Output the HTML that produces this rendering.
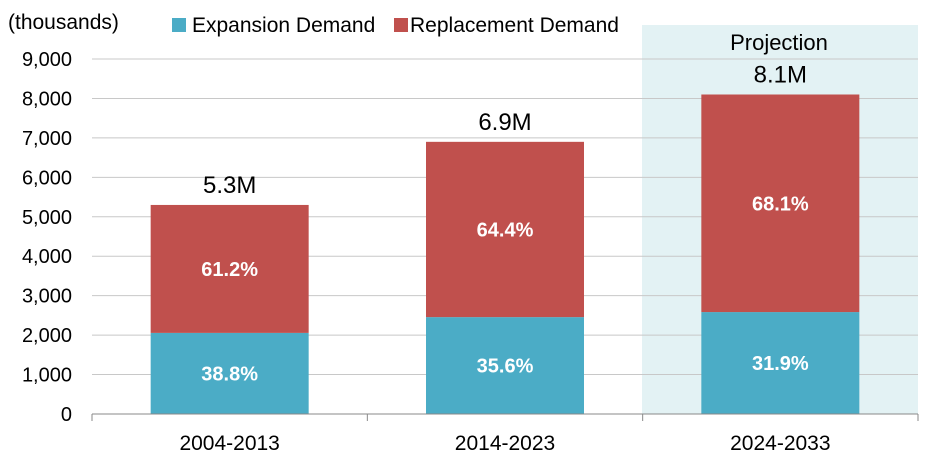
<!DOCTYPE html>
<html><head><meta charset="utf-8"><style>
html,body{margin:0;padding:0;background:#fff;}
svg{display:block;font-family:"Liberation Sans Narrow","Liberation Sans",sans-serif;}
</style></head><body>
<svg id="chart" width="949" height="473" viewBox="0 0 949 473">
<rect x="642" y="25" width="276" height="389" fill="#e3f2f4"/>
<text x="779" y="50" font-size="22" text-anchor="middle" fill="#000">Projection</text>
<text x="8" y="29" font-size="21" fill="#000">(thousands)</text>
<rect x="172" y="18" width="14" height="14" fill="#4bacc6"/>
<text x="192" y="32" font-size="21">Expansion Demand</text>
<rect x="394" y="18" width="14" height="14" fill="#c0504d"/>
<text x="410" y="32" font-size="21">Replacement Demand</text>
<g id="grid"></g><g id="bars"></g><g id="axes"></g>
</svg>
<script>
const categories = ["2004-2013","2014-2023","2024-2033"];
const expansion = [2056, 2456, 2584];
const replacement = [3244, 4444, 5516];
const expansionPct = ["38.8%","35.6%","31.9%"];
const replacementPct = ["61.2%","64.4%","68.1%"];
const totalLabels = ["5.3M","6.9M","8.1M"];
const yTicks = [0,1000,2000,3000,4000,5000,6000,7000,8000,9000];
const yTickLabels = ["0","1,000","2,000","3,000","4,000","5,000","6,000","7,000","8,000","9,000"];

const NS="http://www.w3.org/2000/svg";
const L=92,R=918,Y0=414,YT=59,yMax=9000;
const y=v=>Y0-(v/yMax)*(Y0-YT);
const band=(R-L)/categories.length;
const xc=i=>L+band*(i+0.5);
const bw=158;
function mk(tag,attrs,parent,text){const e=document.createElementNS(NS,tag);for(const k in attrs)e.setAttribute(k,attrs[k]);if(text!==undefined)e.textContent=text;document.getElementById(parent).appendChild(e);return e;}
yTicks.forEach((t,i)=>{
  if(t>0){const g=mk('line',{x1:L,x2:R,y1:y(t),y2:y(t),stroke:'#c8c8c8','stroke-width':1},'grid');
  
  }
  const tl=mk('text',{x:72,y:y(t)+7,'font-size':20,'text-anchor':'end'},'axes',yTickLabels[i]);
  
  
});
categories.forEach((c,i)=>{
  const x=xc(i)-bw/2;
  const tot=expansion[i]+replacement[i];
  const b1=mk('rect',{x:x,y:y(expansion[i]),width:bw,height:Y0-y(expansion[i]),fill:'#4bacc6'},'bars');
  
  
  const b2=mk('rect',{x:x,y:y(tot),width:bw,height:y(expansion[i])-y(tot),fill:'#c0504d'},'bars');
  
  
  const t1=mk('text',{x:xc(i),y:(y(expansion[i])+Y0)/2+7,'font-size':20,'font-weight':'bold',fill:'#fff','text-anchor':'middle'},'bars',expansionPct[i]);
  
  
  const t2=mk('text',{x:xc(i),y:(y(expansion[i])+y(tot))/2+7,'font-size':20,'font-weight':'bold',fill:'#fff','text-anchor':'middle'},'bars',replacementPct[i]);
  
  
  const t3=mk('text',{x:xc(i),y:y(tot)-12,'font-size':24,'text-anchor':'middle'},'bars',totalLabels[i]);
  
  
  const cl=mk('text',{x:xc(i),y:450,'font-size':21,'text-anchor':'middle'},'axes',c);
  
  
});
const ax=mk('line',{x1:L,x2:R,y1:Y0,y2:Y0,stroke:'#888','stroke-width':1},'axes');


for(let i=0;i<=categories.length;i++){
  const tk=mk('line',{x1:L+band*i,x2:L+band*i,y1:Y0,y2:Y0+7,stroke:'#888','stroke-width':1},'axes');
  
  
}
</script>
</body></html>
